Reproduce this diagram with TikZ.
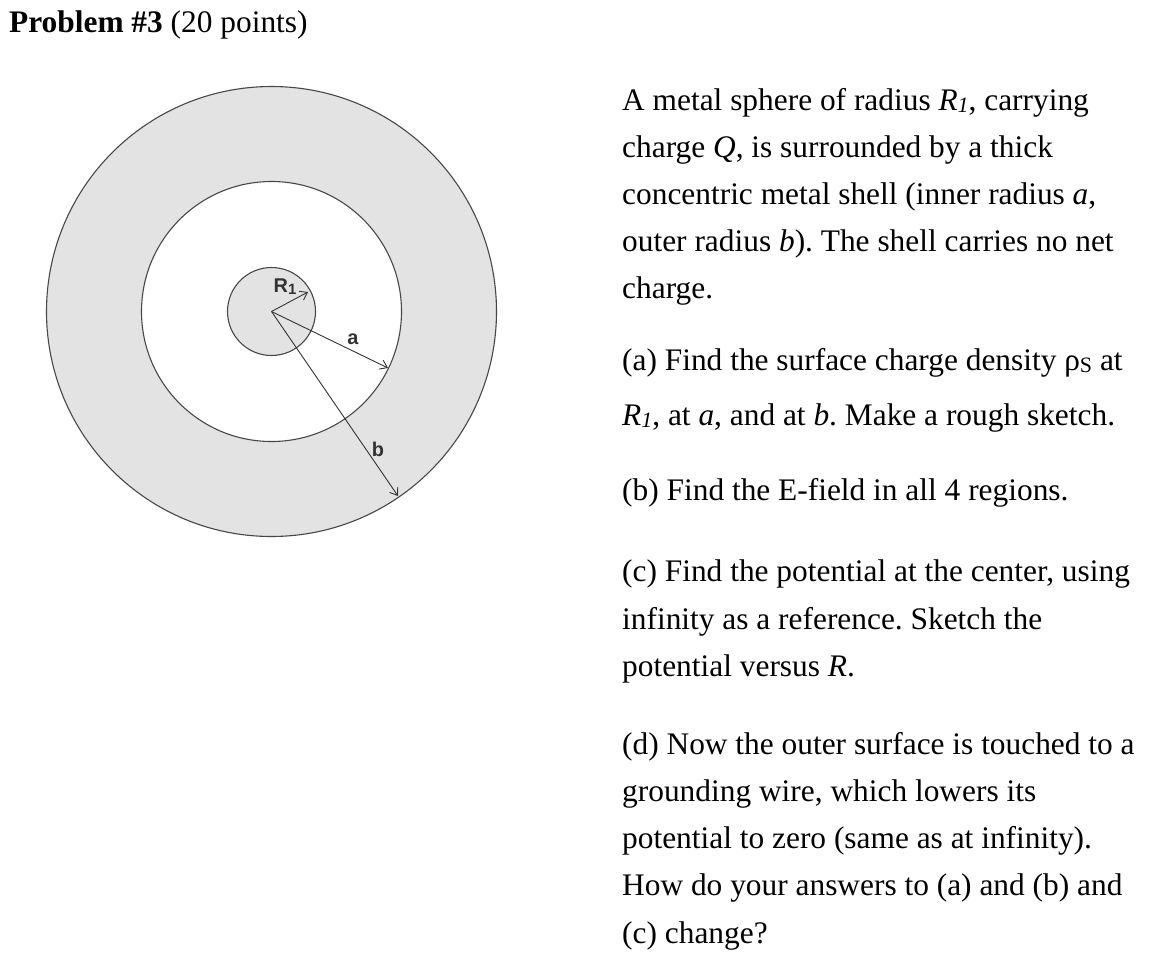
\documentclass[tikz,border=0pt]{standalone}
\usepackage{fontspec}
\setmainfont{Liberation Serif}
\newfontfamily\labfont{Liberation Sans}
\usetikzlibrary{arrows.meta}
\tikzset{
  ring/.style={draw=black!72,line width=1.1pt},
  arr/.style={draw=black!80,line width=0.9pt,-{Straight Barb[length=7pt,width=10pt,line width=0.9pt]}},
  lab/.style={font=\labfont\bfseries\fontsize{20}{20}\selectfont,text=black!80,inner sep=0pt},
  para/.style={anchor=base west,inner sep=0pt,font=\fontsize{31.5}{31.5}\selectfont\frenchspacing},
}
\begin{document}
\begin{tikzpicture}[x=1bp,y=-1bp]
\useasboundingbox (0,0) rectangle (1162,975);
\fill[white] (0,0) rectangle (1162,975);
\node[para] (title) at (9,32) {\textbf{Problem \#3} (20 points)};
\coordinate (c) at (271.5,311.5);
\draw[ring,fill=black!11] (c) circle (225);
\draw[ring,fill=white] (c) circle (130);
\draw[ring,fill=black!11] (c) circle (44);
\coordinate (r) at (308,292);
\coordinate (ea) at (388,368);
\coordinate (eb) at (398,496);
\draw[arr] (c) -- (r);
\draw[arr] (c) -- (ea);
\draw[arr] (c) -- (eb);
\node[lab] (lr) at (285,287) {R\raisebox{-2pt}{\fontsize{15}{15}\selectfont 1}};
\node[lab] (la) at (353,339) {a};
\node[lab] (lb) at (378,449) {b};
\node[para] (l1) at (622,110) {A metal sphere of radius \textit{R\raisebox{-3pt}{\fontsize{22}{22}\selectfont 1}}, carrying};
\node[para] (l2) at (622,157) {charge \textit{Q}, is surrounded by a thick};
\node[para] (l3) at (622,204) {concentric metal shell (inner radius \textit{a},};
\node[para] (l4) at (622,251) {outer radius \textit{b}). The shell carries no net};
\node[para] (l5) at (622,298) {charge.};
\node[para] (l6) at (622,370) {(a) Find the surface charge density ρ\raisebox{-3pt}{\fontsize{22}{22}\selectfont S} at};
\node[para] (l7) at (622,425) {\textit{R\raisebox{-3pt}{\fontsize{22}{22}\selectfont 1}}, at \textit{a}, and at \textit{b}. Make a rough sketch.};
\node[para] (l8) at (622,500) {(b) Find the E-field in all 4 regions.};
\node[para] (l9) at (622,581) {(c) Find the potential at the center, using};
\node[para] (l10) at (622,629) {infinity as a reference. Sketch the};
\node[para] (l11) at (622,676) {potential versus \textit{R}.};
\node[para] (l12) at (622,754) {(d) Now the outer surface is touched to a};
\node[para] (l13) at (622,801) {grounding wire, which lowers its};
\node[para] (l14) at (622,848) {potential to zero (same as at infinity).};
\node[para] (l15) at (622,895) {How do your answers to (a) and (b) and};
\node[para] (l16) at (622,943) {(c) change?};
\end{tikzpicture}
\end{document}
